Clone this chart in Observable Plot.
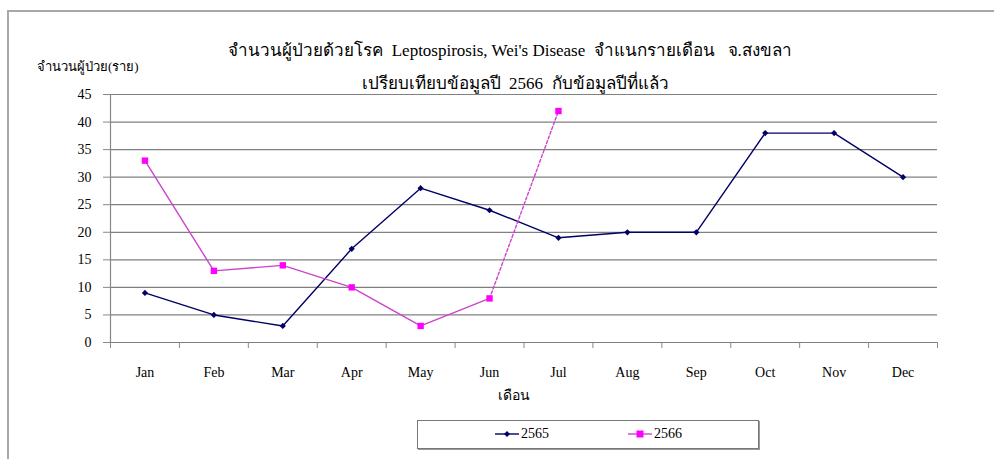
<!DOCTYPE html>
<html>
<head>
<meta charset="utf-8">
<script src="https://cdn.jsdelivr.net/npm/d3@7"></script>
<script src="https://cdn.jsdelivr.net/npm/@observablehq/plot@0.6"></script>
<style>
  html, body { margin: 0; padding: 0; background: #fff; }
  #wrap { position: relative; width: 994px; height: 459px; overflow: hidden; font-family: "Liberation Serif", "Times New Roman", serif; }
  #frame { position: absolute; left: 7px; top: 10px; width: 1100px; height: 600px; border-left: 2px solid #a8a8a8; border-top: 2px solid #a8a8a8; }
  #chart { position: absolute; left: 0; top: 0; }
  #chart text { font-family: "Liberation Serif", "Times New Roman", serif; }
  .t { position: absolute; white-space: nowrap; color: #000; }
  #title1 { left: 0; width: 1020px; text-align: center; top: 36px; font-size: 17px; }
  #title2 { left: 0; width: 1030px; text-align: center; top: 69px; font-size: 17px; }
  #ylab { left: 37px; top: 56px; font-size: 13px; }
  #xlab { left: 498px; top: 384px; font-size: 14px; }
  #legend { position: absolute; left: 417px; top: 420px; width: 340px; height: 27px; border: 1px solid #777; box-shadow: 1px 1px 0 #999; background: #fff; }
  .li { position: absolute; top: 5px; font-size: 14px; display: flex; align-items: center; }
  .li svg { margin-right: 2px; }
</style>
</head>
<body>
<div id="wrap">
  <div id="frame"></div>
  <div id="chart"></div>
  <div class="t" id="title1">จำนวนผู้ป่วยด้วยโรค&nbsp; Leptospirosis, Wei's Disease&nbsp; จำแนกรายเดือน&nbsp;&nbsp; จ.สงขลา</div>
  <div class="t" id="title2">เปรียบเทียบข้อมูลปี&nbsp; 2566&nbsp; กับข้อมูลปีที่แล้ว</div>
  <div class="t" id="ylab">จำนวนผู้ป่วย(ราย)</div>
  <div class="t" id="xlab">เดือน</div>
  <div id="legend"></div>
</div>
<script>
const months = ["Jan","Feb","Mar","Apr","May","Jun","Jul","Aug","Sep","Oct","Nov","Dec"];
const values2565 = [9, 5, 3, 17, 28, 24, 19, 20, 20, 38, 38, 30];
const values2566 = [33, 13, 14, 10, 3, 8, 42];
const yTicks = [0, 5, 10, 15, 20, 25, 30, 35, 40, 45];
const seriesNames = ["2565", "2566"];
const dashedFrom = 5; // 2566: segment Jun -> Jul drawn dashed

const navy = "#000066";
const magenta = "#ff00ff";
const magentaLine = "#cc44cc";
const serif = "'Liberation Serif', 'Times New Roman', serif";

const d2565 = values2565.map((v, i) => ({i, v}));
const d2566 = values2566.map((v, i) => ({i, v}));
const solid2566 = d2566.slice(0, dashedFrom + 1);
const dash2566 = d2566.slice(dashedFrom);
const idx = months.map((m, i) => i);
const bounds = d3.range(-0.5, months.length, 1);

const chart = Plot.plot({
  width: 994,
  height: 459,
  marginTop: 94,
  marginBottom: 117,
  marginLeft: 110,
  marginRight: 57,
  style: {fontFamily: serif, fontSize: "14px", color: "#000", background: "transparent"},
  x: {type: "linear", domain: [-0.5, months.length - 0.5]},
  y: {domain: [0, 45]},
  marks: [
    Plot.ruleY(yTicks, {stroke: "#808080", strokeWidth: 1.2}),
    Plot.ruleX([-0.5], {stroke: "#888", strokeWidth: 1.2}),
    Plot.axisY({ticks: yTicks, tickSize: 7, tickPadding: 12, stroke: "#888", label: null, fontSize: 14, fontFamily: serif}),
    Plot.axisX({ticks: bounds, tickSize: 6, tickFormat: () => "", stroke: "#888", label: null}),
    Plot.axisX({ticks: idx, tickSize: 0, tickPadding: 25, tickFormat: i => months[i], label: null, fontSize: 14, fontFamily: serif}),
    Plot.line(d2565, {x: "i", y: "v", stroke: navy, strokeWidth: 1.4}),
    Plot.dot(d2565, {x: "i", y: "v", symbol: "diamond2", r: 2.8, fill: navy, stroke: "none"}),
    Plot.line(solid2566, {x: "i", y: "v", stroke: magentaLine, strokeWidth: 1.4}),
    Plot.line(dash2566, {x: "i", y: "v", stroke: magentaLine, strokeWidth: 1.4, strokeDasharray: "3,2"}),
    Plot.dot(d2566, {x: "i", y: "v", symbol: "square", r: 3.6, fill: magenta, stroke: "none"})
  ]
});
document.getElementById("chart").appendChild(chart);

// legend
const legend = document.getElementById("legend");
const specs = [
  {name: seriesNames[0], color: navy, shape: "diamond", left: 77},
  {name: seriesNames[1], color: magenta, shape: "square", left: 210}
];
for (const s of specs) {
  const item = document.createElement("div");
  item.className = "li";
  item.style.left = s.left + "px";
  const ns = "http://www.w3.org/2000/svg";
  const svg = document.createElementNS(ns, "svg");
  svg.setAttribute("width", 24); svg.setAttribute("height", 14);
  const ln = document.createElementNS(ns, "line");
  ln.setAttribute("x1", 0); ln.setAttribute("x2", 24); ln.setAttribute("y1", 7); ln.setAttribute("y2", 7);
  ln.setAttribute("stroke", s.color === magenta ? magentaLine : s.color); ln.setAttribute("stroke-width", 1.4);
  svg.appendChild(ln);
  const mk = document.createElementNS(ns, "path");
  mk.setAttribute("d", s.shape === "diamond" ? "M12,4L15,7L12,10L9,7Z" : "M8.5,3.5H15.5V10.5H8.5Z");
  mk.setAttribute("fill", s.color);
  svg.appendChild(mk);
  item.appendChild(svg);
  const tx = document.createElement("span");
  tx.textContent = s.name;
  item.appendChild(tx);
  legend.appendChild(item);
}
</script>
</body>
</html>
